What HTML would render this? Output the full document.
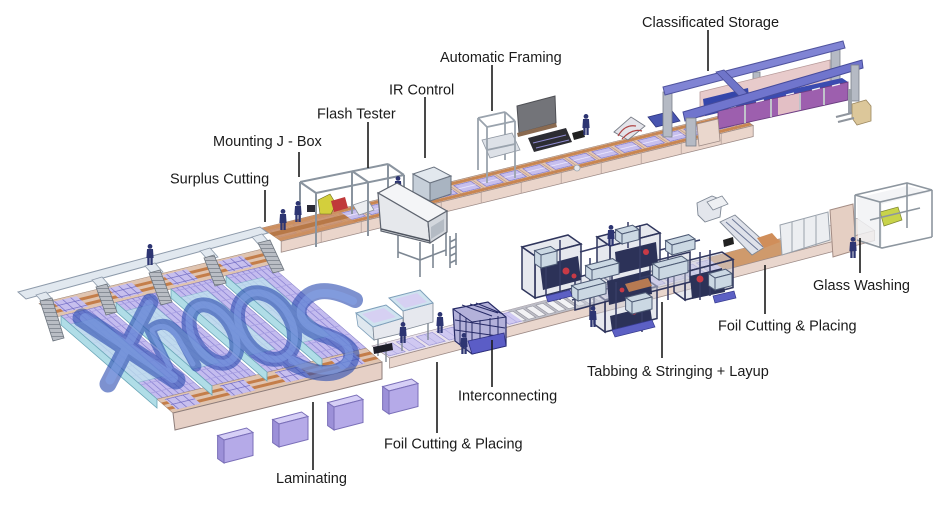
<!DOCTYPE html>
<html><head><meta charset="utf-8">
<style>
html,body{margin:0;padding:0;background:#fff;}
svg{display:block;}
text{font-family:"Liberation Sans",Arial,sans-serif;font-size:14.5px;fill:#1b1b1b;}
</style></head><body>
<svg width="933" height="515" viewBox="0 0 933 515" xmlns="http://www.w3.org/2000/svg" xmlns:xlink="http://www.w3.org/1999/xlink">
<defs>
 <pattern id="upan" patternUnits="userSpaceOnUse" width="23" height="24">
  <rect width="23" height="24" fill="#e4c6b2"/>
  <rect y="1" width="23" height="4" fill="#c88652"/>
  <rect y="19" width="23" height="4" fill="#c88652"/>
  <rect x="3" y="6" width="17" height="12" fill="#c7bfee" stroke="#7872cc" stroke-width="0.8"/>
  <line x1="3" y1="12" x2="20" y2="12" stroke="#f0ecff" stroke-width="1"/>
  <line x1="22.5" y1="0" x2="22.5" y2="24" stroke="#a88878" stroke-width=".6"/>
 </pattern>
 <pattern id="lpan" patternUnits="userSpaceOnUse" width="20" height="22">
  <rect width="20" height="22" fill="#e9e1ec"/>
  <rect x="2" y="3" width="16" height="16" fill="#cfc8f1" stroke="#8a84ce" stroke-width=".7"/>
  <line x1="10" y1="3" x2="10" y2="19" stroke="#a59fdc" stroke-width=".6"/>
 </pattern>
 <pattern id="roll" patternUnits="userSpaceOnUse" width="10" height="22">
  <rect width="10" height="22" fill="#bdbdc6"/>
  <rect x="1.5" y="3" width="7" height="16" fill="#f2f2f5" stroke="#80808c" stroke-width=".6"/>
 </pattern>
 <pattern id="lane" patternUnits="userSpaceOnUse" width="55" height="12">
  <rect width="44" height="12" fill="#c4bcef"/>
  <path d="M5.5 0V12M11 0V12M16.5 0V12M22 0V12M27.5 0V12M33 0V12M38.5 0V12" stroke="#837bcf" stroke-width=".8"/>
  <line x1="0" y1="11.5" x2="44" y2="11.5" stroke="#a69ee2" stroke-width=".8"/>
 </pattern>
 <pattern id="blk" patternUnits="userSpaceOnUse" width="8" height="7.5">
  <rect width="8" height="7.5" fill="#c7bfee" stroke="#736dc4" stroke-width=".8"/>
 </pattern>
 <pattern id="stair" patternUnits="userSpaceOnUse" width="4" height="4">
  <rect width="4" height="4" fill="#b9bdc4"/>
  <line x1="0" y1="0.5" x2="4" y2="0.5" stroke="#7b828c" stroke-width=".8"/>
 </pattern>
 <g id="man" fill="#2d3572"><circle cx="0" cy="2.4" r="2.4"/><path d="M-3 5h6l0.6 9h-7.2z"/><rect x="-2.7" y="13" width="2.3" height="8"/><rect x="0.4" y="13" width="2.3" height="8"/></g>
</defs>

<!-- ============ UPPER LINE ============ -->
<g transform="matrix(1,-0.245,0.8,0.55,262,228)">
 <rect x="0" y="0" width="472" height="24" fill="url(#upan)" stroke="#9c8070" stroke-width=".8"/>
 <rect x="0" y="0" width="75" height="24" fill="#cc9163" opacity=".85"/>
 <rect x="0" y="9" width="75" height="6" fill="#b77847"/>
</g>
<g transform="matrix(1,-0.245,0,1,281.2,241.2)">
 <rect x="0" y="0" width="472" height="11" fill="#ead5cb" stroke="#9c8a86" stroke-width=".8"/>
 <path d="M40 0V11M80 0V11M120 0V11M160 0V11M200 0V11M240 0V11M280 0V11M320 0V11M360 0V11M400 0V11M440 0V11" stroke="#b09c96" stroke-width=".7"/>
</g>

<!-- Mounting J-box / Flash tester frame -->
<g stroke="#8a949f" stroke-width="2" fill="none">
 <path d="M300 182L388 164M300 182V222M352 171V214M388 164V206"/>
</g>
<polygon points="318,200 330,194 336,204 331,214 320,214" fill="#d3cf3c" stroke="#6d6a20" stroke-width=".6"/>
<polygon points="331,201 345,197 348,208 334,212" fill="#c0393a"/>
<rect x="307" y="205" width="8" height="7" fill="#2a2a35"/>
<polygon points="353,205 368,200 374,210 359,215" fill="#eceef1" stroke="#8c939c" stroke-width=".8"/>
<use xlink:href="#man" x="298" y="201"/>
<g stroke="#8a949f" stroke-width="2" fill="none">
 <path d="M316 193L404 175M300 182L316 193M352 171L368 182M388 164L404 175M316 193V247M368 182V236M404 175V229"/>
</g>
<use xlink:href="#man" x="283" y="209"/>
<use xlink:href="#man" x="398" y="176"/>

<!-- IR control cube -->
<polygon points="413,174 434,167 451,176 430,183" fill="#e2e8ee" stroke="#6a7380" stroke-width="1"/>
<polygon points="413,174 430,183 430,201 413,192" fill="#c6cfd9" stroke="#6a7380" stroke-width="1"/>
<polygon points="430,183 451,176 451,194 430,201" fill="#a9b4c1" stroke="#6a7380" stroke-width="1"/>

<!-- IR / flash tunnel box -->
<g stroke="#7d8793" stroke-width="1.6" fill="none">
 <path d="M398 234V258M420 242V277M433 244V268M446 232V256M450 236V268M456 233V265M450 242L456 239M450 249L456 246M450 256L456 253M450 263L456 260M398 252L420 260L446 250"/>
</g>
<polygon points="378,193 397,183 447,211 428,222" fill="#f4f5f7" stroke="#5f6570" stroke-width="1.2"/>
<polygon points="378,193 428,222 430,243 381,231" fill="#e6e8ec" stroke="#5f6570" stroke-width="1.2"/>
<polygon points="428,222 447,211 447,232 430,243" fill="#d3d7dd" stroke="#5f6570" stroke-width="1.2"/>
<polygon points="431,227 444,219 444,231 431,239" fill="#b4bbc4"/>
<line x1="381" y1="229" x2="430" y2="241" stroke="#4f5560" stroke-width="1.5"/>

<!-- Automatic framing -->
<g stroke="#9aa3ad" stroke-width="1.8" fill="none">
 <path d="M478 118L505 112M478 118V170M505 112V160"/>
</g>
<polygon points="482,140 512,133 520,150 490,158" fill="#dde1e7" stroke="#8f97a2" stroke-width=".8"/>
<polygon points="517,106 555,96 556,123 519,133" fill="#737479" stroke="#4f5055" stroke-width="1"/>
<polygon points="517,133 556,123 557,127 518,137" fill="#8a6a50"/>
<polygon points="528,138 566,128 572,142 534,152" fill="#2c2c32"/>
<path d="M533 143L566 135M536 148L569 140" stroke="#8e8ad0" stroke-width="1"/>
<polygon points="572,133 583,130 585,137 574,140" fill="#222"/>
<g stroke="#9aa3ad" stroke-width="1.8" fill="none">
 <path d="M487 127L515 121M478 118L487 127M505 112L515 121M487 127V183M515 121V178M487 150L515 144"/>
</g>
<use xlink:href="#man" x="586" y="114"/>
<circle cx="577" cy="168" r="3" fill="#e6e8ec" stroke="#9aa3ad" stroke-width=".8"/>
<polygon points="614,132 631,117 645,126 628,140" fill="#e4e4ea" stroke="#777c86" stroke-width=".9"/>
<path d="M618 136Q625 124 636 126M622 139Q632 128 642 131" stroke="#b04545" stroke-width="1.2" fill="none"/>
<polygon points="648,117 672,111 680,121 656,127" fill="#4855b0" stroke="#2e3680" stroke-width=".8"/>

<!-- Classificated storage -->
<rect x="663" y="92" width="9" height="45" fill="#b5bac4" stroke="#7a808a" stroke-width=".8"/>
<rect x="831" y="47" width="9" height="45" fill="#b5bac4" stroke="#7a808a" stroke-width=".8"/>
<rect x="753" y="72" width="7" height="28" fill="#b5bac4" stroke="#7a808a" stroke-width=".8"/>
<polygon points="700,92 830,60 830,85 700,117" fill="#e8cbcb" stroke="#b79a9a" stroke-width=".8"/>
<polygon points="703,99 748,88 750,105 705,116" fill="#3546aa"/>
<polygon points="663,87 843,41 845,48 665,95" fill="#8084d4" stroke="#50549e" stroke-width="1"/>
<polygon points="716,72 724,70 748,94 740,97" fill="#6f75c9" stroke="#4a4e98" stroke-width=".8"/>
<polygon points="712,107 842,78 848,82 718,111" fill="#3b4bb0"/>
<polygon points="718,111 848,82 848,100 718,129" fill="#9d5fae" stroke="#6a3e80" stroke-width=".9"/>
<polygon points="778,98 800,93 800,110 778,115" fill="#e3bfc5"/>
<path d="M745 105V123M771 99V117M800 93V110M824 88V105" stroke="#c0c3ca" stroke-width="2"/>
<path d="M728 108l8-2M756 102l8-2M786 95l8-2M812 90l8-2M832 86l8-2" stroke="#f2f2f6" stroke-width="1.4"/>
<polygon points="697,124 718,119 720,141 699,146" fill="#ead7cd" stroke="#9d8b86" stroke-width=".8"/>
<polygon points="683,112 862,60 863,68 685,121" fill="#7075cd" stroke="#474c9c" stroke-width="1"/>
<rect x="686" y="118" width="10" height="28" fill="#b5bac4" stroke="#7a808a" stroke-width=".8"/>
<rect x="851" y="65" width="8" height="36" fill="#b5bac4" stroke="#7a808a" stroke-width=".8"/>
<!-- forklift -->
<rect x="848" y="89" width="4" height="24" fill="#9aa0a8"/>
<polygon points="852,104 866,100 871,106 871,121 857,125 852,118" fill="#dcc79a" stroke="#9c8860" stroke-width=".8"/>
<path d="M836 117L852 113M838 122L854 118" stroke="#8f959d" stroke-width="2"/>

<!-- ============ LAMINATING PLATFORM ============ -->
<g transform="matrix(1,-0.244,0.8,0.694,45,302)">
 <rect x="-6" y="0" width="221" height="20" fill="#e0c4b0" stroke="#9c8578" stroke-width=".6"/>
 <rect x="-6" y="5" width="221" height="3.5" fill="#c47e4a"/>
 <rect x="-6" y="12" width="221" height="3.5" fill="#c47e4a"/>
 <rect x="6" y="2" width="24" height="15" fill="url(#blk)"/>
 <rect x="61" y="2" width="24" height="15" fill="url(#blk)"/>
 <rect x="116" y="2" width="24" height="15" fill="url(#blk)"/>
 <rect x="171" y="2" width="24" height="15" fill="url(#blk)"/>
 <rect x="0" y="20" width="44" height="120" fill="url(#lane)" stroke="#8078c6" stroke-width=".6"/>
 <rect x="55" y="20" width="44" height="120" fill="url(#lane)" stroke="#8078c6" stroke-width=".6"/>
 <rect x="110" y="20" width="44" height="120" fill="url(#lane)" stroke="#8078c6" stroke-width=".6"/>
 <rect x="165" y="20" width="44" height="120" fill="url(#lane)" stroke="#8078c6" stroke-width=".6"/>
 <rect x="-1" y="32" width="28" height="84" fill="#bfe6ee" opacity=".72" stroke="#70adbe" stroke-width=".6"/>
 <rect x="54" y="32" width="28" height="84" fill="#bfe6ee" opacity=".72" stroke="#70adbe" stroke-width=".6"/>
 <rect x="109" y="32" width="28" height="84" fill="#bfe6ee" opacity=".72" stroke="#70adbe" stroke-width=".6"/>
 <rect x="164" y="32" width="28" height="84" fill="#bfe6ee" opacity=".72" stroke="#70adbe" stroke-width=".6"/>
 <rect x="0" y="140" width="209" height="20" fill="#e0c4b0" stroke="#9c8578" stroke-width=".6"/>
 <rect x="0" y="145" width="209" height="3.5" fill="#c47e4a"/>
 <rect x="0" y="152" width="209" height="3.5" fill="#c47e4a"/>
 <rect x="6" y="142" width="24" height="15" fill="url(#blk)"/>
 <rect x="61" y="142" width="24" height="15" fill="url(#blk)"/>
 <rect x="116" y="142" width="24" height="15" fill="url(#blk)"/>
 <rect x="171" y="142" width="24" height="15" fill="url(#blk)"/>
</g>
<!-- lane side faces -->
<g fill="#b0dde7" stroke="#6aa6b7" stroke-width=".8">
 <polygon points="61,316 157,399 157,408 61,325"/>
 <polygon points="116,302.5 212,386 212,395 116,311.5"/>
 <polygon points="171,289 267,372 267,381 171,298"/>
 <polygon points="226,276 322,359 322,368 226,285"/>
</g>
<polygon points="173,413 382,362 382,379 175,430" fill="#e6d0c6" stroke="#8d7d7a" stroke-width="1"/>

<!-- walkway + stairs -->
<polygon points="18,292 260,227 268,233 26,299" fill="#e1e8ef" stroke="#8e9bab" stroke-width="1"/>
<g fill="#e1e8ef" stroke="#8e9bab" stroke-width=".8">
 <polygon points="36,295 46,292 54,301 44,304"/>
 <polygon points="92,280 102,277 110,286 100,289"/>
 <polygon points="145,266 155,263 163,272 153,275"/>
 <polygon points="200,251 210,248 218,257 208,260"/>
 <polygon points="252,237 262,234 270,243 260,246"/>
</g>
<g fill="url(#stair)" stroke="#6f7780" stroke-width=".8">
 <polygon points="40,301 52,298 64,338 53,341"/>
 <polygon points="96,287 107,284 117,312 106,315"/>
 <polygon points="149,273 160,270 172,302 161,305"/>
 <polygon points="204,258 214,255 226,283 215,286"/>
 <polygon points="258,243 270,240 284,270 273,273"/>
</g>
<use xlink:href="#man" x="150" y="244"/>

<!-- blue watermark -->
<g fill="none" stroke-linecap="round" stroke-linejoin="round" opacity=".62" stroke="#2e4fb2">
 <path d="M82 318L176 380" stroke-width="19"/>
 <path d="M150 302L108 384" stroke-width="17"/>
 <path d="M150 330L170 372M150 330Q166 316 180 336L196 366" stroke-width="11"/>
 <ellipse cx="213" cy="334" rx="20" ry="32" transform="rotate(-32 213 334)" stroke-width="15"/>
 <ellipse cx="266" cy="326" rx="25" ry="36" transform="rotate(-32 266 326)" stroke-width="15"/>
 <path d="M355 300Q315 280 300 305Q292 325 327 336Q362 348 347 366Q327 382 290 362" stroke-width="16"/>
</g>
<g fill="none" stroke-linecap="round" stroke-linejoin="round" opacity=".55" stroke="#86a4ea">
 <path d="M85 318L173 378" stroke-width="10"/>
 <path d="M149 304L110 380" stroke-width="9"/>
 <path d="M152 332L170 368M152 330Q166 320 178 338L193 364" stroke-width="5"/>
 <ellipse cx="213" cy="334" rx="20" ry="32" transform="rotate(-32 213 334)" stroke-width="7"/>
 <ellipse cx="266" cy="326" rx="25" ry="36" transform="rotate(-32 266 326)" stroke-width="7"/>
 <path d="M353 301Q315 283 302 306Q295 324 327 334Q359 345 345 364Q327 379 292 360" stroke-width="8"/>
</g>

<!-- ============ LOWER LINE ============ -->
<g transform="matrix(1,-0.263,0.8,0.55,372,346)">
 <rect x="0" y="0" width="485" height="22" fill="url(#lpan)" stroke="#9a8f98" stroke-width=".8"/>
 <rect x="135" y="0" width="80" height="22" fill="url(#roll)"/>
 <rect x="335" y="0" width="72" height="22" fill="#cf9a6c"/>
 <rect x="407" y="0" width="78" height="22" fill="#ebe4df" stroke="#a9a0a0" stroke-width=".6"/>
</g>
<g transform="matrix(1,-0.263,0,1,389.6,358.1)">
 <rect x="0" y="0" width="485" height="10" fill="#e9d6cd" stroke="#9c8a86" stroke-width=".8"/>
</g>

<!-- foil cutting bottom -->
<g stroke="#7f8894" stroke-width="1.4"><path d="M378 338V356M386 343V362M402 333V351M428 322V340"/></g>
<polygon points="356,313 373,327 374,340 358,326" fill="#dfe8ef" stroke="#7e9fba" stroke-width=".8"/>
<polygon points="373,327 403,318 403,333 374,340" fill="#e6e8ee" stroke="#7f8894" stroke-width=".8"/>
<polygon points="356,313 386,305 403,318 373,327" fill="#cfe3ef" stroke="#7e9fba" stroke-width="1"/>
<polygon points="362,314 384,308 396,317 374,323" fill="#d6d0f2"/>
<polygon points="403,311 433,303 433,322 404,330" fill="#e6e8ee" stroke="#7f8894" stroke-width=".8"/>
<polygon points="389,298 420,290 433,303 403,311" fill="#cfe3ef" stroke="#7e9fba" stroke-width="1"/>
<polygon points="395,299 417,293 427,302 405,308" fill="#d6d0f2"/>
<polygon points="373,347 392,343 393,350 374,354" fill="#1e1e28"/>
<use xlink:href="#man" x="440" y="312"/>
<use xlink:href="#man" x="403" y="322"/>

<!-- interconnecting -->
<polygon points="453,309 488,302 506,317 506,346 472,354 455,341" fill="#b3b1da" stroke="#262a66" stroke-width="1.2"/>
<g stroke="#262a66" stroke-width="1" fill="none">
 <path d="M453 309L472 322L506 317M472 322V354M460 313V344M466 318V348M480 320L480 350M490 318V348M498 316V346M455 320L505 328M455 330L505 337M462 305L492 316M470 304L498 313M476 303L503 314"/>
</g>
<polygon points="468,341 504,333 506,346 472,354" fill="#5b5dc6" stroke="#2e3080" stroke-width=".8"/>
<use xlink:href="#man" x="464" y="333"/>

<!-- stringers: frames -->
<g fill="#cdd2de" fill-opacity=".5" stroke="#2f355c" stroke-width="1.5">
 <polygon points="535,256 581,244 568,235 522,247"/>
 <polygon points="535,256 581,244 581,286 535,298"/>
 <polygon points="535,256 522,247 522,289 535,298"/>
 <polygon points="610,246 660,233 647,224 597,237"/>
 <polygon points="610,246 660,233 660,269 610,282"/>
 <polygon points="610,246 597,237 597,273 610,282"/>
 <polygon points="685,272 733,259.5 722,252 674,264"/>
 <polygon points="685,272 733,259.5 733,287.5 685,300"/>
 <polygon points="685,272 674,264 674,292 685,300"/>
 <polygon points="605,300 657,286.5 646,279 594,292"/>
 <polygon points="605,300 657,286.5 657,318.5 605,332"/>
 <polygon points="605,300 594,292 594,324 605,332"/>
 <polygon points="575,278 612,268 612,300 575,310"/>
 <polygon points="650,262 690,252 690,282 650,292"/>
</g>
<g fill="#2c3258">
 <polygon points="540,266 578,256 581,280 543,290"/>
 <polygon points="615,252 656,242 658,264 617,274"/>
 <polygon points="607,281 650,270 652,294 609,305"/>
 <polygon points="610,316 650,306 652,320 612,330"/>
 <polygon points="690,276 722,268 725,292 692,299"/>
</g>
<g stroke="#363c66" stroke-width="1.5">
 <path d="M560 240V300M590 258V318M640 225V282M668 240V300M700 252V300M572 300L600 292M640 278L672 270M546 250V296M628 222V248M710 250V296M616 282V330M580 252L610 244M660 250L700 240M590 300L590 320M642 296V332"/>
</g>
<polygon points="625,284 648,278 652,286 629,292" fill="#b77a52"/>
<g fill="#c83a46">
 <circle cx="566" cy="271" r="3.5"/><circle cx="574" cy="276" r="2.5"/><circle cx="646" cy="252" r="3"/><circle cx="700" cy="279" r="3.5"/><circle cx="634" cy="312" r="2.6"/><circle cx="622" cy="290" r="2.4"/>
</g>
<g fill="#cbd8e3" stroke="#4d5a74" stroke-width="1">
 <polygon points="541,255 557,251 550.6,246.4 534.6,250.6"/><polygon points="541,255 557,251 557,264 541,268"/><polygon points="541,255 534.6,250.6 534.6,263.6 541,268"/>
 <polygon points="592,270 619,263 612.6,258.6 585.6,265.6"/><polygon points="592,270 619,263 619,274 592,281"/><polygon points="592,270 585.6,265.6 585.6,276.6 592,281"/>
 <polygon points="622,234 639,229.6 632.6,225.2 615.6,229.6"/><polygon points="622,234 639,229.6 639,239.6 622,244"/><polygon points="622,234 615.6,229.6 615.6,239.6 622,244"/>
 <polygon points="672,245 695,239 688.6,234.6 665.6,240.6"/><polygon points="672,245 695,239 695,249 672,255"/><polygon points="672,245 665.6,240.6 665.6,250.6 672,255"/>
 <polygon points="578,290 606,282.7 599.6,278.3 571.6,285.6"/><polygon points="578,290 606,282.7 606,293.7 578,301"/><polygon points="578,290 571.6,285.6 571.6,296.6 578,301"/>
 <polygon points="659,268 688,260.5 681.6,256.1 652.6,263.6"/><polygon points="659,268 688,260.5 688,272.5 659,280"/><polygon points="659,268 652.6,263.6 652.6,275.6 659,280"/>
 <polygon points="715,278 732,273.6 725.6,269.2 708.6,273.6"/><polygon points="715,278 732,273.6 732,285.6 715,290"/><polygon points="715,278 708.6,273.6 708.6,285.6 715,290"/>
 <polygon points="632,302 652,297 645.6,292.6 625.6,297.6"/><polygon points="632,302 652,297 652,309 632,314"/><polygon points="632,302 625.6,297.6 625.6,309.6 632,314"/>
</g>
<g fill="#5c60c4" stroke="#363a8e" stroke-width=".7">
 <polygon points="612,330 652,320 655,327 615,337"/>
 <polygon points="713,296 734,291 736,298 715,303"/>
 <polygon points="546,296 570,290 572,296 548,302"/>
</g>
<use xlink:href="#man" x="611" y="225"/>
<use xlink:href="#man" x="593" y="306"/>

<!-- foil cutting right -->
<polygon points="697,203 712,196 722,200 720,217 705,222 698,215" fill="#e3e6ec" stroke="#7e8794" stroke-width=".9"/>
<polygon points="707,202 722,196 728,204 713,210" fill="#eef0f3" stroke="#7e8794" stroke-width=".8"/>
<polygon points="720,222 735,215 768,245 752,255" fill="#dfe2ea" stroke="#7e8794" stroke-width=".9"/>
<path d="M726 222L758 250M732 219L763 247" stroke="#6c7897" stroke-width="1"/>
<polygon points="757,238 772,233 780,242 764,248" fill="#d08e5a"/>
<polygon points="723,240 733,237 734,244 724,247" fill="#222"/>
<polygon points="780,225 828,212 830,240 782,255" fill="#eceef1" stroke="#9aa2ac" stroke-width="1"/>
<path d="M792 222V252M804 219V249M816 216V246" stroke="#9aa2ac" stroke-width="1"/>
<polygon points="830,210 853,204 856,250 833,257" fill="#e5cfc3" stroke="#a38c84" stroke-width="1"/>
<!-- glass washing -->
<polygon points="857,198 907,186 930,192 882,204 882,246 858,240" fill="#f0f1f4" opacity=".8"/>
<polygon points="880,212 898,207 902,220 884,226" fill="#c8d34a" stroke="#7d8430" stroke-width=".7"/>
<g stroke="#8d969f" stroke-width="1.6" fill="none">
 <path d="M855 195L907 183L932 190L880 202Z M855 195V240M880 202V248M932 190V237M907 183V228M857 240L882 248L932 237M870 220L920 208"/>
</g>
<use xlink:href="#man" x="853" y="237"/>

<!-- purple boxes -->
<g stroke="#7a6fb8" stroke-width="1">
 <polygon points="224,440 253,432.5 246.6,428 217.6,435.6" fill="#d6cff6"/>
 <polygon points="224,440 253,432.5 253,455.5 224,463" fill="#b5aae8"/>
 <polygon points="224,440 217.6,435.6 217.6,458.6 224,463" fill="#9c90d8"/>
 <polygon points="279,424 308,416.5 301.6,412 272.6,419.6" fill="#d6cff6"/>
 <polygon points="279,424 308,416.5 308,439.5 279,447" fill="#b5aae8"/>
 <polygon points="279,424 272.6,419.6 272.6,442.6 279,447" fill="#9c90d8"/>
 <polygon points="334,407 363,399.5 356.6,395 327.6,402.6" fill="#d6cff6"/>
 <polygon points="334,407 363,399.5 363,422.5 334,430" fill="#b5aae8"/>
 <polygon points="334,407 327.6,402.6 327.6,425.6 334,430" fill="#9c90d8"/>
 <polygon points="389,391 418,383.5 411.6,379 382.6,386.6" fill="#d6cff6"/>
 <polygon points="389,391 418,383.5 418,406.5 389,414" fill="#b5aae8"/>
 <polygon points="389,391 382.6,386.6 382.6,409.6 389,414" fill="#9c90d8"/>
</g>

<!-- ============ LABELS ============ -->
<g stroke="#1b1b1b" stroke-width="1.6">
 <line x1="708" y1="30" x2="708" y2="71"/>
 <line x1="492" y1="65" x2="492" y2="111"/>
 <line x1="425" y1="97" x2="425" y2="158"/>
 <line x1="368" y1="122" x2="368" y2="168"/>
 <line x1="299" y1="152" x2="299" y2="177"/>
 <line x1="265" y1="190" x2="265" y2="222"/>
 <line x1="860" y1="238" x2="860" y2="273"/>
 <line x1="765" y1="265" x2="765" y2="314"/>
 <line x1="662" y1="302" x2="662" y2="358"/>
 <line x1="492" y1="340" x2="492" y2="387"/>
 <line x1="437" y1="362" x2="437" y2="433"/>
 <line x1="313" y1="402" x2="313" y2="470"/>
</g>
<text x="642" y="27">Classificated Storage</text>
<text x="440" y="62">Automatic Framing</text>
<text x="389" y="94.5">IR Control</text>
<text x="317" y="118.5">Flash Tester</text>
<text x="213" y="146">Mounting J - Box</text>
<text x="170" y="183.5">Surplus Cutting</text>
<text x="813" y="290">Glass Washing</text>
<text x="718" y="330.5">Foil Cutting &amp; Placing</text>
<text x="587" y="376">Tabbing &amp; Stringing + Layup</text>
<text x="458" y="400.5">Interconnecting</text>
<text x="384" y="448.5">Foil Cutting &amp; Placing</text>
<text x="276" y="483">Laminating</text>
</svg>
</body></html>
